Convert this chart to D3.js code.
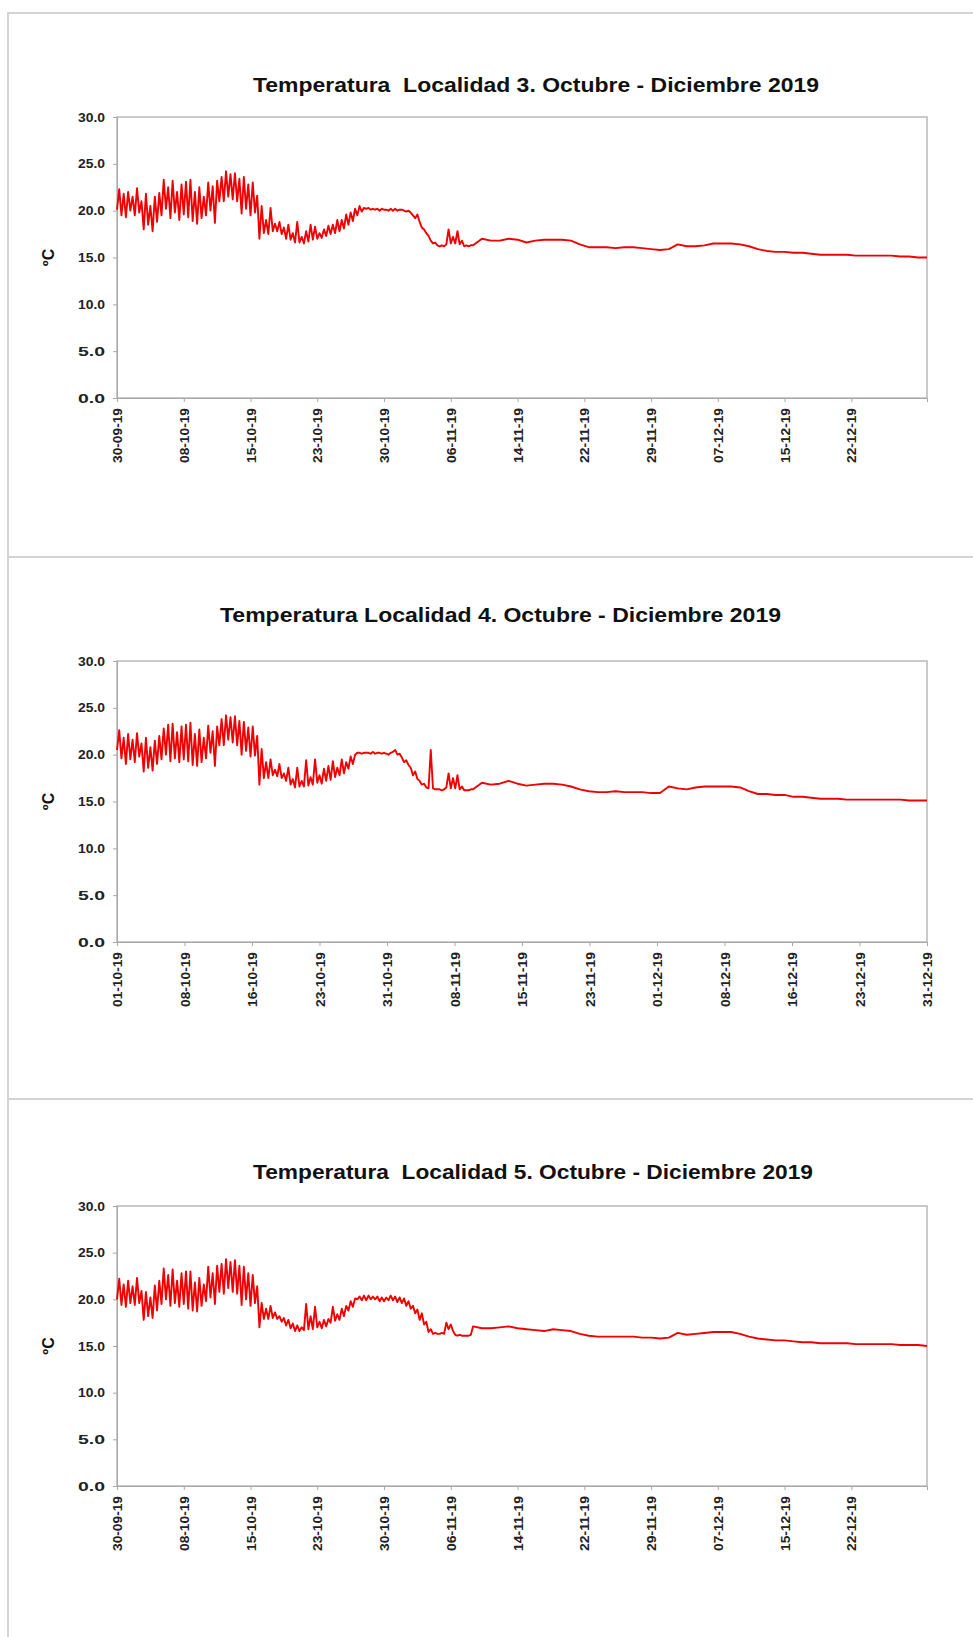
<!DOCTYPE html>
<html><head><meta charset="utf-8">
<script src="https://cdn.jsdelivr.net/npm/d3@7/dist/d3.min.js"></script>
<style>body{margin:0;background:#fff}svg{display:block}</style>
</head><body><svg id="c" width="973" height="1637"></svg>
<script>
// ---------- DATA ----------
const titles = [
  "Temperatura  Localidad 3. Octubre - Diciembre 2019",
  "Temperatura Localidad 4. Octubre - Diciembre 2019",
  "Temperatura  Localidad 5. Octubre - Diciembre 2019"
];
const yTicks = [0, 5, 10, 15, 20, 25, 30];
const xLabels3 = ["30-09-19","08-10-19","15-10-19","23-10-19","30-10-19","06-11-19","14-11-19","22-11-19","29-11-19","07-12-19","15-12-19","22-12-19"];
const xLabels4 = ["01-10-19","08-10-19","16-10-19","23-10-19","31-10-19","08-11-19","15-11-19","23-11-19","01-12-19","08-12-19","16-12-19","23-12-19","31-12-19"];
const xLabels5 = ["30-09-19","08-10-19","15-10-19","23-10-19","30-10-19","06-11-19","14-11-19","22-11-19","29-11-19","07-12-19","15-12-19","22-12-19"];

// 6-hourly readings, days 0-39 (°C)
const loc3Sub = [
20.1,22.3,19.5,21.8, 19.3,22.0,20.0,21.5, 19.5,22.4,19.8,21.0, 18.0,21.8,18.5,20.5, 17.8,21.5,18.8,21.9,
19.5,23.3,20.2,22.5, 19.2,23.2,19.8,22.0, 19.0,22.8,19.6,23.1, 19.3,23.3,18.9,22.0, 18.6,22.5,19.2,21.5,
19.5,23.0,20.0,22.6, 18.7,23.2,21.0,23.6, 21.0,24.2,21.5,23.9, 21.2,24.0,21.0,23.4, 19.7,23.6,20.2,22.8,
19.5,23.0,19.8,21.6, 17.0,20.5,17.6,19.0, 17.5,20.3,17.8,18.6, 17.8,18.8,17.5,18.2, 17.0,18.5,16.9,17.6,
16.6,18.8,16.6,17.2, 16.5,17.8,16.7,18.5, 16.9,18.3,17.0,17.6, 17.1,18.0,17.3,18.4, 17.5,18.5,17.6,19.0,
17.8,19.0,18.1,19.6, 18.5,19.8,18.9,20.2, 19.5,20.5,19.9,20.3, 20.2,20.3,20.1,20.2, 20.1,20.2,20.0,20.2,
20.1,20.1,20.0,20.2, 20.0,20.2,20.0,20.1, 20.1,20.0,19.9,20.0, 19.8,19.5,19.2,19.6, 18.8,18.2,18.0,17.6,
17.3,16.8,16.5,16.6, 16.3,16.2,16.3,16.2, 16.4,18.0,16.5,17.2, 16.5,17.8,16.4,16.8, 16.2,16.3,16.2,16.3
];
// daily readings, days 40-91 (°C)
const loc3Day = [
16.3,17.0,16.8,16.8,17.0,16.9,16.6,16.8,16.9,16.9,16.9,16.8,16.4,16.1,16.1,16.1,16.0,16.1,16.1,16.0,
15.9,15.8,15.9,16.4,16.2,16.2,16.3,16.5,16.5,16.5,16.4,16.2,15.9,15.7,15.6,15.6,15.5,15.5,15.4,15.3,
15.3,15.3,15.3,15.2,15.2,15.2,15.2,15.2,15.1,15.1,15.0,15.0
];

const loc4Sub = [
20.5,22.6,19.6,21.8, 19.0,22.2,19.5,21.6, 19.2,22.3,19.8,21.2, 18.2,21.8,18.6,20.8, 18.3,21.5,19.0,22.0,
19.5,22.8,20.0,23.2, 19.3,23.3,19.6,22.4, 19.2,23.0,19.5,23.2, 19.3,23.4,18.9,22.2, 18.8,22.7,19.2,21.8,
19.6,23.1,20.2,22.5, 18.8,23.0,21.0,23.8, 21.0,24.2,21.6,24.0, 21.3,24.1,21.0,23.6, 20.0,23.5,20.4,22.9,
19.8,23.0,19.9,22.0, 16.8,20.6,17.5,19.2, 17.5,19.5,17.8,18.4, 17.7,19.0,17.5,18.0, 17.2,18.6,16.8,17.4,
16.5,18.6,16.6,17.2, 16.6,19.4,16.7,17.6, 16.8,19.5,17.0,17.8, 16.9,18.5,17.2,18.8, 17.3,19.3,17.6,18.6,
17.8,19.5,18.0,19.2, 18.5,19.8,19.0,20.0, 20.2,20.2,20.1,20.2, 20.2,20.2,20.1,20.3, 20.1,20.2,20.2,20.1,
20.2,20.1,20.0,20.2, 20.3,20.5,20.0,20.1, 19.7,19.2,19.4,18.9, 18.6,17.8,18.2,17.4, 17.2,16.8,16.9,16.5,
16.4,20.5,16.4,16.3, 16.3,16.3,16.2,16.3, 16.5,18.0,16.4,17.5, 16.4,17.8,16.3,16.6, 16.2,16.2,16.2,16.3
];
const loc4Day = [
16.3,17.0,16.8,16.9,17.2,16.9,16.7,16.8,16.9,16.9,16.8,16.6,16.3,16.1,16.0,16.0,16.1,16.0,16.0,16.0,
15.9,15.9,16.6,16.4,16.3,16.5,16.6,16.6,16.6,16.6,16.5,16.1,15.8,15.8,15.7,15.7,15.5,15.5,15.4,15.3,
15.3,15.3,15.2,15.2,15.2,15.2,15.2,15.2,15.2,15.1,15.1,15.1
];

const loc5Sub = [
20.0,22.2,19.4,21.6, 19.2,22.0,19.6,21.4, 19.4,22.3,19.6,20.9, 17.8,20.8,18.2,20.2, 18.0,21.5,18.8,22.0,
19.5,23.3,20.0,22.6, 19.3,23.2,19.6,22.0, 19.2,22.8,19.5,23.0, 19.0,23.0,18.8,21.8, 18.7,22.3,19.3,21.6,
19.8,23.5,20.2,22.8, 19.5,23.6,20.8,23.8, 20.6,24.3,21.2,24.0, 20.8,24.2,20.6,23.6, 19.4,23.5,20.0,22.8,
19.3,22.6,19.6,21.4, 17.0,19.6,17.9,19.0, 17.9,19.3,18.0,18.6, 17.9,18.2,17.6,18.0, 17.2,17.8,16.9,17.4,
16.6,17.2,16.6,17.0, 16.7,19.5,16.8,18.2, 16.8,19.2,17.0,17.6, 16.9,17.8,17.1,17.9, 17.5,19.2,17.7,18.4,
17.8,19.0,18.2,19.3, 18.8,19.8,19.2,20.1, 20.0,20.3,19.9,20.4, 19.9,20.4,20.0,20.3, 20.0,20.3,19.8,20.2,
19.8,20.2,19.9,20.4, 19.9,20.3,19.7,20.2, 19.6,20.1,19.3,19.8, 19.0,19.3,18.5,18.9, 17.8,18.5,17.3,17.6,
16.5,16.8,16.3,16.4, 16.3,16.3,16.4,16.3, 17.5,16.8,17.3,16.6, 16.2,16.1,16.2,16.1, 16.1,16.1,16.1,16.2
];
const loc5Day = [
17.1,16.9,16.9,17.0,17.1,16.9,16.8,16.7,16.6,16.8,16.7,16.6,16.3,16.1,16.0,16.0,16.0,16.0,16.0,15.9,
15.9,15.8,15.9,16.4,16.2,16.3,16.4,16.5,16.5,16.5,16.3,16.0,15.8,15.7,15.6,15.6,15.5,15.4,15.4,15.3,
15.3,15.3,15.3,15.2,15.2,15.2,15.2,15.2,15.1,15.1,15.1,15.0
];

// ---------- DRAW ----------
const svg = d3.select("#c");
svg.append("rect").attr("width", 973).attr("height", 1637).attr("fill", "#fff");

// outer panel frames
const frame = svg.append("g").attr("stroke", "#d4d4d4").attr("stroke-width", 2).attr("fill", "none");
[13, 557, 1099].forEach(yy => frame.append("line").attr("x1", 8).attr("x2", 973).attr("y1", yy).attr("y2", yy));
frame.append("line").attr("x1", 8).attr("x2", 8).attr("y1", 12).attr("y2", 1637);

const panels = [
  {title: titles[0], tx0: 253, tx1: 819, tb: 92,   top: 117, bottom: 398,  labels: xLabels3, sub: loc3Sub, day: loc3Day, span: 7.5},
  {title: titles[1], tx0: 220, tx1: 781, tb: 622,  top: 661, bottom: 942,  labels: xLabels4, sub: loc4Sub, day: loc4Day, span: 91/12},
  {title: titles[2], tx0: 253, tx1: 813, tb: 1179, top: 1206, bottom: 1486, labels: xLabels5, sub: loc5Sub, day: loc5Day, span: 7.5}
];

const L = 117, R = 927;
const font = "'Liberation Sans', Arial, sans-serif";

panels.forEach(p => {
  const g = svg.append("g");
  const x = d3.scaleLinear().domain([0, 91]).range([L, R]);
  const y = d3.scaleLinear().domain([0, 30]).range([p.bottom, p.top]);

  // title
  g.append("text").attr("x", p.tx0).attr("y", p.tb)
    .attr("font-family", font).attr("font-weight", "bold").attr("font-size", 21)
    .attr("fill", "#111").attr("textLength", p.tx1 - p.tx0).attr("lengthAdjust", "spacingAndGlyphs")
    .style("white-space", "pre")
    .text(p.title);

  // plot border
  g.append("rect").attr("x", L).attr("y", p.top).attr("width", R - L).attr("height", p.bottom - p.top)
    .attr("fill", "none").attr("stroke", "#bdbdbd").attr("stroke-width", 1.6);

  // y axis
  const ya = g.append("g").attr("transform", `translate(${L},0)`)
    .call(d3.axisLeft(y).tickValues(yTicks).tickFormat(d3.format(".1f")).tickSize(4).tickPadding(8));
  ya.select(".domain").attr("stroke", "#a8a8a8");
  ya.selectAll(".tick line").attr("stroke", "#a8a8a8");
  ya.selectAll(".tick text").attr("font-family", font).attr("font-weight", "bold").attr("font-size", 12.5)
    .attr("fill", "#222").attr("textLength", 27).attr("lengthAdjust", "spacingAndGlyphs");

  // x axis
  const pos = p.labels.map((_, i) => i * p.span);
  const xa = g.append("g").attr("transform", `translate(0,${p.bottom})`)
    .call(d3.axisBottom(x).tickValues(pos).tickFormat((d, i) => p.labels[i]).tickSize(4));
  xa.select(".domain").attr("stroke", "#a8a8a8");
  xa.selectAll(".tick line").attr("stroke", "#a8a8a8");
  xa.selectAll(".tick text").attr("font-family", font).attr("font-weight", "bold").attr("font-size", 12.5)
    .attr("fill", "#222").attr("transform", "rotate(-90)").attr("text-anchor", "end")
    .attr("x", -10).attr("y", 0).attr("dy", "0.36em")
    .attr("textLength", 55).attr("lengthAdjust", "spacingAndGlyphs");

  // y axis title
  g.append("text").attr("transform", `translate(54,${(p.top + p.bottom) / 2}) rotate(-90)`)
    .attr("text-anchor", "middle").attr("font-family", font).attr("font-weight", "bold")
    .attr("font-size", 16).attr("fill", "#111").text("ºC");

  // series
  const pts = p.sub.map((v, i) => [i * 0.25, v]).concat(p.day.map((v, j) => [40 + j, v]));
  g.append("path").datum(pts)
    .attr("fill", "none").attr("stroke", "#f00000").attr("stroke-width", 1.9).attr("stroke-linejoin", "round")
    .attr("d", d3.line().x(d => x(d[0])).y(d => y(d[1])));
});
</script>
</body></html>
